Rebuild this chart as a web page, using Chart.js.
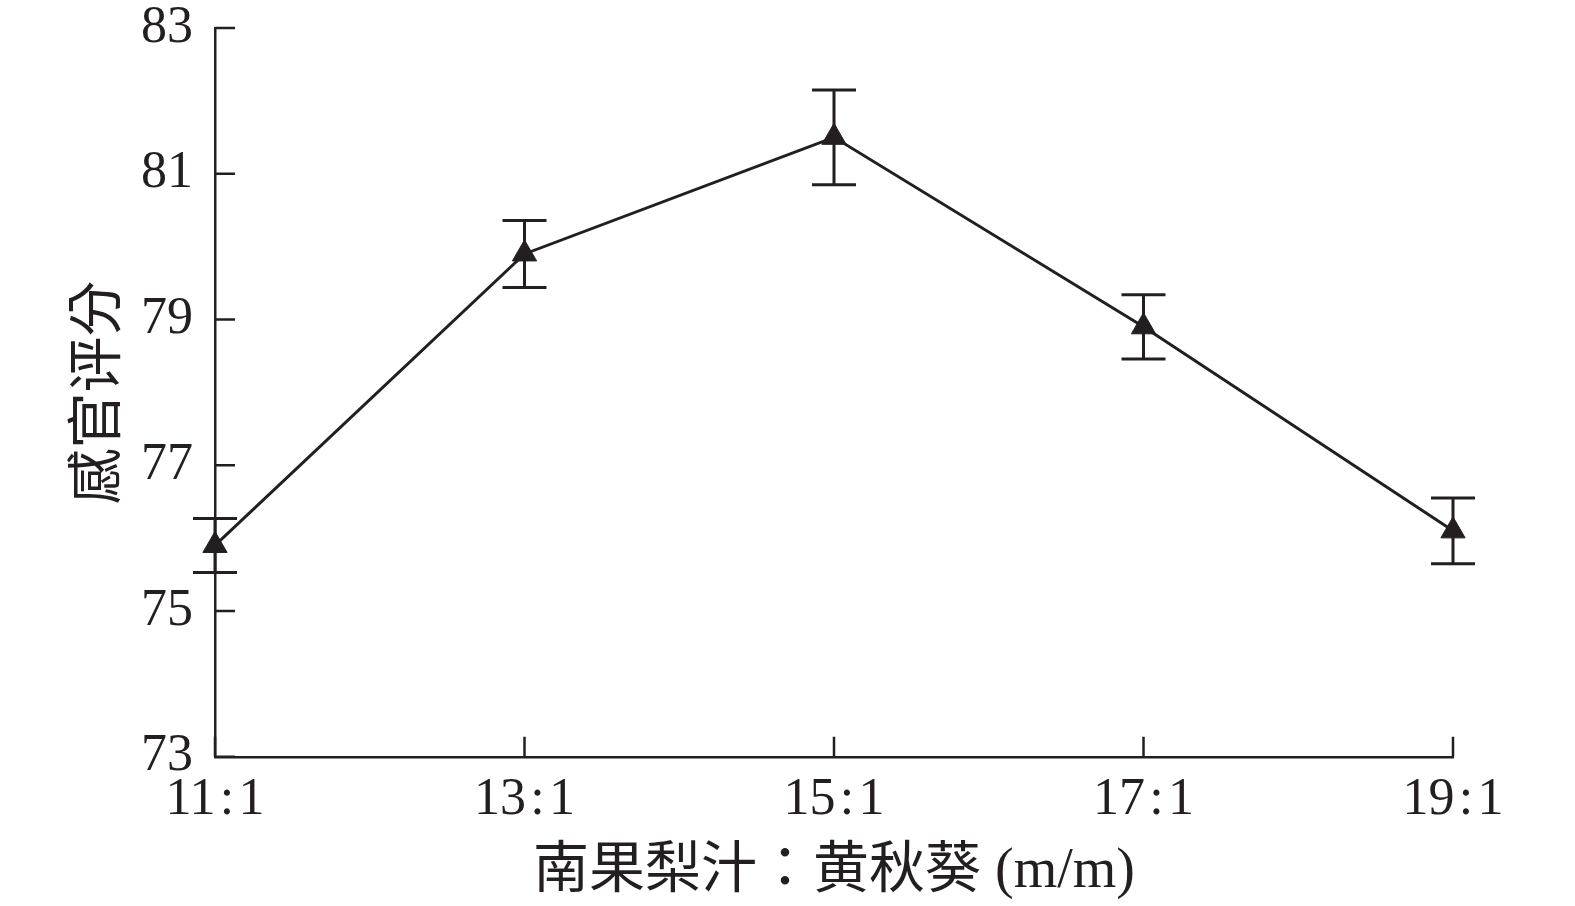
<!DOCTYPE html>
<html>
<head>
<meta charset="utf-8">
<script src="https://cdn.jsdelivr.net/npm/chart.js@4.4.0/dist/chart.umd.min.js"></script>
<style>
  html, body { margin: 0; padding: 0; background: #fff; }
  #wrap { width: 1575px; height: 906px; }
</style>
</head>
<body>
<div id="wrap"><canvas id="lineChart"></canvas></div>
<script>
// data
var ratios = ['11\u200a:\u200a1', '13\u200a:\u200a1', '15\u200a:\u200a1', '17\u200a:\u200a1', '19\u200a:\u200a1'];
var scores = [75.9, 79.9, 81.5, 78.9, 76.1];
var errors = [0.37, 0.46, 0.65, 0.44, 0.45];
var yTicks = [73, 75, 77, 79, 81, 83];

var ink = '#231f20';
var serif = '"Liberation Serif", "Times New Roman", "Noto Sans CJK TC", serif';

// error bars with caps, placed through the chart's own scales
var errorBars = {
    id: 'errorBars',
    afterDatasetsDraw: function (chart) {
        var ctx = chart.ctx;
        var x = chart.scales.x, y = chart.scales.y;
        ctx.save();
        ctx.strokeStyle = ink;
        ctx.lineWidth = 3;
        for (var i = 0; i < scores.length; i++) {
            var px = x.getPixelForValue(i);
            var top = y.getPixelForValue(scores[i] + errors[i]);
            var bot = y.getPixelForValue(scores[i] - errors[i]);
            ctx.beginPath();
            ctx.moveTo(px, top); ctx.lineTo(px, bot);
            ctx.moveTo(px - 22, top); ctx.lineTo(px + 22, top);
            ctx.moveTo(px - 22, bot); ctx.lineTo(px + 22, bot);
            ctx.stroke();
        }
        ctx.restore();
    }
};

// tick marks pointing into the plot
var innerTicks = {
    id: 'innerTicks',
    afterDraw: function (chart) {
        var ctx = chart.ctx;
        var x = chart.scales.x, y = chart.scales.y;
        var len = 20;
        ctx.save();
        ctx.strokeStyle = ink;
        ctx.lineWidth = 2.5;
        ctx.beginPath();
        for (var i = 0; i < y.ticks.length; i++) {
            var py = y.getPixelForTick(i);
            ctx.moveTo(y.right, py); ctx.lineTo(y.right + len, py);
        }
        for (var j = 0; j < x.ticks.length; j++) {
            var px = x.getPixelForTick(j);
            ctx.moveTo(px, x.top); ctx.lineTo(px, x.top - len);
        }
        ctx.stroke();
        ctx.restore();
    }
};

var LINECHART = document.getElementById('lineChart');
var myLineChart = new Chart(LINECHART, {
    type: 'line',
    data: {
        labels: ratios,
        datasets: [
            {
                data: scores,
                borderColor: ink,
                borderWidth: 3,
                backgroundColor: ink,
                pointStyle: 'triangle',
                pointRadius: 14,
                pointBorderWidth: 1,
                pointBackgroundColor: ink,
                pointBorderColor: ink,
                tension: 0,
                fill: false,
                clip: false
            }]
    },
    options: {
        responsive: true,
        maintainAspectRatio: false,
        animation: false,
        events: [],
        layout: { padding: { top: 0, right: 122, bottom: 4, left: 72 } },
        plugins: {
            legend: { display: false },
            tooltip: { enabled: false }
        },
        scales: {
            x: {
                offset: false,
                grid: { display: true, drawOnChartArea: false, drawTicks: false },
                border: { display: true, color: ink, width: 2.5 },
                ticks: {
                    color: ink,
                    padding: 12,
                    maxRotation: 0,
                    font: { family: serif, size: 52 }
                },
                title: {
                    display: true,
                    text: '南果梨汁：黄秋葵 (m/m)',
                    color: ink,
                    padding: { top: 0, bottom: 0 },
                    font: { family: serif, size: 56, lineHeight: 1.05 }
                }
            },
            y: {
                min: 73,
                max: 83,
                afterBuildTicks: function (axis) {
                    axis.ticks = yTicks.map(function (v) { return { value: v }; });
                },
                afterFit: function (axis) {
                    axis.paddingTop = 28;
                },
                grid: { display: true, drawOnChartArea: false, drawTicks: false },
                border: { display: true, color: ink, width: 2.5 },
                ticks: {
                    color: ink,
                    padding: 22,
                    font: { family: serif, size: 52 }
                },
                title: {
                    display: true,
                    text: '感官评分',
                    color: ink,
                    padding: { top: 0, bottom: -9 },
                    font: { family: serif, size: 56, lineHeight: 1 }
                }
            }
        }
    },
    plugins: [errorBars, innerTicks]
});
</script>
</body>
</html>
